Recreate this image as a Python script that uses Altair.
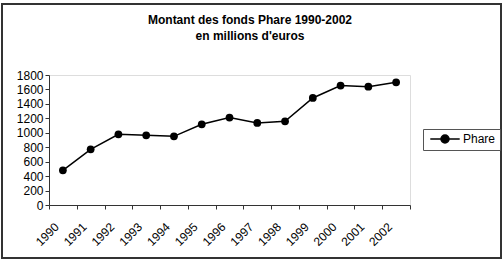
import altair as alt
import pandas as pd

years = ["1990", "1991", "1992", "1993", "1994", "1995", "1996", "1997", "1998", "1999", "2000", "2001", "2002"]
values = [480, 771, 979, 965, 951, 1117, 1210, 1136, 1159, 1482, 1653, 1639, 1699]
series = ["Phare"] * len(years)
y_ticks = [0, 200, 400, 600, 800, 1000, 1200, 1400, 1600, 1800]
title_lines = ["Montant des fonds Phare 1990-2002", "en millions d'euros"]

df = pd.DataFrame({"annee": years, "montant": values, "serie": series})
FONT = "Liberation Sans"

x = alt.X("annee:O", sort=years, title=None,
          scale=alt.Scale(paddingInner=0, paddingOuter=0),
          axis=alt.Axis(labelAngle=-45, labelAlign="right", labelBaseline="top",
                        tickBand="extent", tickSize=4, tickColor="#333", domainColor="#333",
                        labelFont=FONT, labelFontSize=12, labelColor="black",
                        labelPadding=12, labelOffset=-10))
y = alt.Y("montant:Q", title=None,
          scale=alt.Scale(domain=[0, 1800], nice=False),
          axis=alt.Axis(values=y_ticks, format="d", grid=False, tickSize=4, tickColor="#333",
                        domainColor="#333", labelFont=FONT, labelFontSize=12,
                        labelColor="black", labelPadding=2))

legend_shape = "M-2.94,0L2.94,0M0.8,0A0.8,0.8,0,1,1,-0.8,0A0.8,0.8,0,1,1,0.8,0Z"
color = alt.Color("serie:N", title=None,
                  scale=alt.Scale(domain=["Phare"], range=["black"]),
                  legend=alt.Legend(orient="none", legendX=374, legendY=54,
                                    symbolType=legend_shape, symbolSize=100,
                                    symbolStrokeWidth=1.5, symbolFillColor="black",
                                    symbolStrokeColor="black", symbolOffset=12,
                                    strokeColor="#555", padding=4, labelFont=FONT,
                                    labelFontSize=12, labelColor="black", labelOffset=12))

line = alt.Chart(df).mark_line(strokeWidth=1.5).encode(x=x, y=y, color=color)
pts = alt.Chart(df).mark_point(filled=True, size=60, opacity=1).encode(x=x, y=y, color=color)

one = pd.DataFrame({"k": [0]})
border = alt.Chart(one).mark_rect(
    fill="transparent", stroke="#333", strokeWidth=2, clip=False
).encode(x=alt.value(-47), x2=alt.value(452), y=alt.value(-71), y2=alt.value(183))

title1 = alt.Chart(one).mark_text(
    text=title_lines[0], font=FONT, fontSize=12, fontWeight="bold", color="black",
    align="center", baseline="middle"
).encode(x=alt.value(201), y=alt.value(-55))
title2 = alt.Chart(one).mark_text(
    text=title_lines[1], font=FONT, fontSize=12, fontWeight="bold", color="black",
    align="center", baseline="middle"
).encode(x=alt.value(201), y=alt.value(-39))

chart = alt.layer(border, title1, title2, line, pts).properties(
    width=361, height=130,
    autosize=alt.AutoSizeParams(type="none"),
    padding={"left": 49, "top": 75, "right": 94, "bottom": 57},
).configure_view(strokeWidth=0).configure(background="white")

chart.save("out.html", embed_options={"renderer": "svg", "actions": False})
